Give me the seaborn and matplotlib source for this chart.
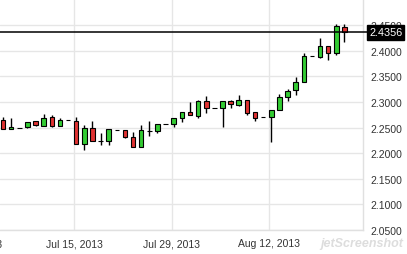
import matplotlib
matplotlib.use("Agg")
import matplotlib.pyplot as plt
import matplotlib.transforms as mtransforms
import numpy as np
import pandas as pd
import seaborn as sns

# ---- data ----
opens = [2.2648, 2.2473, 2.2500, 2.2512, 2.2629, 2.2531, 2.2713, 2.2525, 2.2642, 2.2635,
         2.2174, 2.2486, 2.2232, 2.2232, 2.2459, 2.2453, 2.2322, 2.2115, 2.2439, 2.2428,
         2.2570, 2.2570, 2.2688, 2.2799, 2.2733, 2.3014, 2.2877, 2.2877, 2.3025, 2.2947,
         2.3045, 2.2799, 2.2701, 2.2697, 2.2850, 2.3104, 2.3234, 2.3385, 2.3893, 2.3873,
         2.4100, 2.3951, 2.4471]
highs = [2.2707, 2.2688, 2.2500, 2.2609, 2.2629, 2.2772, 2.2746, 2.2688, 2.2642, 2.2701,
         2.2551, 2.2635, 2.2389, 2.2467, 2.2459, 2.2453, 2.2420, 2.2551, 2.2623, 2.2570,
         2.2570, 2.2688, 2.2799, 2.3006, 2.3045, 2.3123, 2.2877, 2.3025, 2.3045, 2.3137,
         2.3045, 2.2811, 2.2701, 2.2850, 2.3156, 2.3254, 2.3482, 2.3951, 2.3893, 2.4250,
         2.4100, 2.4523, 2.4523]
lows = [2.2473, 2.2473, 2.2500, 2.2492, 2.2531, 2.2531, 2.2512, 2.2525, 2.2642, 2.2180,
        2.2068, 2.2232, 2.2160, 2.2166, 2.2459, 2.2291, 2.2115, 2.2115, 2.2344, 2.2400,
        2.2570, 2.2506, 2.2609, 2.2746, 2.2688, 2.2779, 2.2877, 2.2518, 2.2877, 2.2916,
        2.2746, 2.2623, 2.2701, 2.2213, 2.2850, 2.3025, 2.3143, 2.3385, 2.3893, 2.3854,
        2.3826, 2.3924, 2.4178]
closes = [2.2473, 2.2512, 2.2500, 2.2609, 2.2551, 2.2688, 2.2537, 2.2648, 2.2642, 2.2180,
          2.2486, 2.2232, 2.2232, 2.2467, 2.2459, 2.2310, 2.2115, 2.2453, 2.2439, 2.2570,
          2.2570, 2.2688, 2.2799, 2.2746, 2.3014, 2.2877, 2.2877, 2.3025, 2.2955, 2.3045,
          2.2779, 2.2682, 2.2701, 2.2850, 2.3104, 2.3221, 2.3385, 2.3893, 2.3893, 2.4100,
          2.3957, 2.4478, 2.4356]
last_price = 2.4356
date_tick_index = [-3, 9, 21, 33]
date_tick_labels = ["Jul 1, 2013", "Jul 15, 2013", "Jul 29, 2013", "Aug 12, 2013"]
y_ticks = [2.05, 2.10, 2.15, 2.20, 2.25, 2.30, 2.35, 2.40, 2.45]

df = pd.DataFrame({"open": opens, "high": highs, "low": lows, "close": closes})
df["idx"] = np.arange(len(df))

# ---- style ----
sns.set_theme(style="white")
plt.rcParams["font.family"] = ["Liberation Sans", "DejaVu Sans"]

fig = plt.figure(figsize=(4.07, 2.55), dpi=100)
ax = fig.add_axes([0.0, 24 / 255, 363 / 407, 1 - 24 / 255])

GREEN = "#33cc33"
RED = "#e03232"
colors = np.where(df["close"] > df["open"], GREEN,
                  np.where(df["close"] < df["open"], RED, "black"))

# wicks
ax.vlines(df["idx"], df["low"], df["high"], color="black", lw=1.0, zorder=3)
# bodies
bottoms = np.minimum(df["open"], df["close"])
heights = np.abs(df["close"] - df["open"])
ax.bar(df["idx"], heights, bottom=bottoms, width=0.56, color=colors,
       edgecolor="black", linewidth=0.8, zorder=4)

# grid / ticks
tick_pos = [i - 0.25 for i in date_tick_index]
ax.set_yticks(y_ticks)
ax.set_yticklabels([f"{v:.4f}" for v in y_ticks])
ax.set_xticks(tick_pos)
ax.set_xticklabels(date_tick_labels)
ax.grid(True, color="#e6e6e6", lw=1.0, zorder=0)
ax.set_axisbelow(True)

ax.set_xlim(-0.37, 44.28)
ax.set_ylim(2.05, 2.501)

ax.yaxis.tick_right()
ax.tick_params(axis="y", length=0, pad=5, labelsize=7.5, labelcolor="#333333")
ax.tick_params(axis="x", length=0, pad=6, labelsize=7.5, labelcolor="#333333")

# date labels whose gridline lies just outside the view (partly visible at left edge)
xtrans = mtransforms.blended_transform_factory(ax.transData, ax.transAxes)
xlo, xhi = ax.get_xlim()
for p, lab in zip(tick_pos, date_tick_labels):
    if p < xlo:
        ax.annotate(lab, xy=(p, 0), xycoords=xtrans, xytext=(0, -6), textcoords="offset points",
                    ha="center", va="top", fontsize=7.5, color="#333333", annotation_clip=False)

for s in ["top", "left"]:
    ax.spines[s].set_visible(False)
for s in ["right", "bottom"]:
    ax.spines[s].set_color("#e0e0e0")
    ax.spines[s].set_linewidth(1.0)

# last price line + label
ax.axhline(last_price, xmin=0, xmax=367 / 363, color="black", lw=1.1, zorder=5, clip_on=False)
trans = mtransforms.blended_transform_factory(ax.transAxes, ax.transData)
ax.text(1.0 + 6 / 363, last_price, f"{last_price:.4f}", transform=trans, ha="left", va="center",
        color="white", fontsize=7.8, zorder=10, clip_on=False,
        bbox=dict(boxstyle="square,pad=0.2", fc="black", ec="black"))

# screenshot watermark
fig.text(0.99, 0.02, "jetScreenshot", ha="right", va="bottom", fontsize=9, style="italic",
         fontweight="bold", color="#dddddd")

fig.savefig("out.png", dpi=100)
